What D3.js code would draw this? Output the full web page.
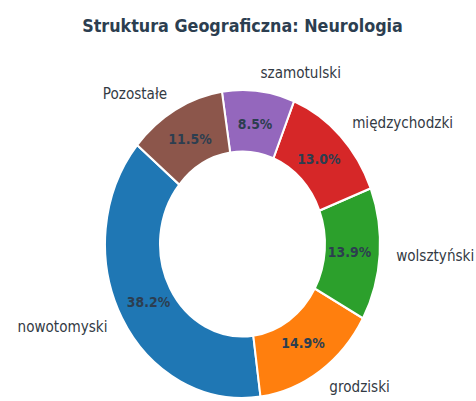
<!DOCTYPE html>
<html>
<head>
<meta charset="utf-8">
<script src="https://cdn.jsdelivr.net/npm/d3@7"></script>
<style>
  body { margin: 0; background: #fff; }
  svg { display: block; font-family: "DejaVu Sans", sans-serif; }
</style>
</head>
<body>
<div id="chart"></div>
<script>
const width = 476;
const height = 401;

// chart data
const categories = ['nowotomyski', 'grodziski', 'wolsztyński', 'międzychodzki', 'szamotulski', 'Pozostałe'];
const shares = [38.2, 14.9, 13.9, 13.0, 8.5, 11.5];
const colors = ['#1f77b4', '#ff7f0e', '#2ca02c', '#d62728', '#9467bd', '#8c564b'];
const title = 'Struktura Geograficzna: Neurologia';

const data = categories.map((name, i) => ({ name, value: shares[i] }));

const stretch = 1.12; // picture is a bit taller than wide
const cx = 242.5;
const cy = 244 / stretch;
const outerR = 137.5;
const innerR = outerR * 0.6;

const svg = d3.select('#chart')
  .append('svg')
  .attr('width', width)
  .attr('height', height);

const root = svg.append('g')
  .attr('transform', `scale(1, ${stretch})`);

root.append('text')
  .attr('x', cx)
  .attr('y', 28.3)
  .attr('text-anchor', 'middle')
  .style('font-size', '16px')
  .style('font-weight', 'bold')
  .style('fill', '#2c3e50')
  .text(title);

// matplotlib style: start at 140deg, counter clockwise
const start = (90 - 140) * Math.PI / 180;
const pie = d3.pie()
  .value(d => d.value)
  .sort(null)
  .startAngle(start)
  .endAngle(start - 2 * Math.PI);

const arcs = pie(data);

const arc = d3.arc().innerRadius(innerR).outerRadius(outerR);

const g = root.append('g').attr('transform', `translate(${cx}, ${cy})`);

g.selectAll('path')
  .data(arcs)
  .join('path')
  .attr('d', arc)
  .attr('fill', (d, i) => colors[i])
  .attr('stroke', '#fff')
  .attr('stroke-width', 2);

const mid = d => (d.startAngle + d.endAngle) / 2;

// category labels
g.selectAll('.lbl')
  .data(arcs)
  .join('text')
  .attr('class', 'lbl')
  .attr('x', d => Math.sin(mid(d)) * outerR * 1.12)
  .attr('y', d => -Math.cos(mid(d)) * outerR * 1.12)
  .attr('text-anchor', d => Math.sin(mid(d)) > 0 ? 'start' : 'end')
  .attr('dominant-baseline', 'central')
  .style('font-size', '13.6px')
  .style('fill', '#333a44')
  .text(d => d.data.name);

// percentages
g.selectAll('.pct')
  .data(arcs)
  .join('text')
  .attr('class', 'pct')
  .attr('x', d => Math.sin(mid(d)) * outerR * 0.78)
  .attr('y', d => -Math.cos(mid(d)) * outerR * 0.78)
  .attr('text-anchor', 'middle')
  .attr('dominant-baseline', 'central')
  .style('font-size', '12.5px')
  .style('font-weight', 'bold')
  .style('fill', '#2c3e50')
  .text(d => d.data.value.toFixed(1) + '%');
</script>
</body>
</html>
